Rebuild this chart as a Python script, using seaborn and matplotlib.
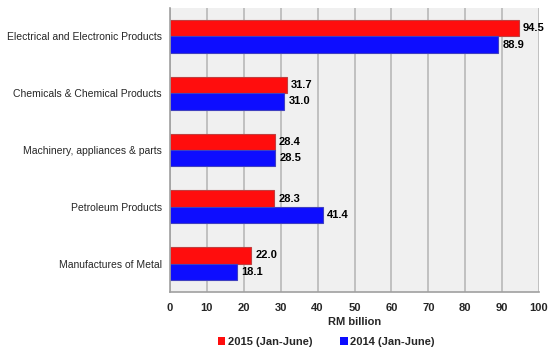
import matplotlib
matplotlib.use("Agg")
import matplotlib.pyplot as plt
import seaborn as sns
import pandas as pd
from matplotlib.patches import Patch

categories = ["Electrical and Electronic Products", "Chemicals & Chemical Products",
              "Machinery, appliances & parts", "Petroleum Products", "Manufactures of Metal"]
values_2015 = [94.5, 31.7, 28.4, 28.3, 22.0]
values_2014 = [88.9, 31.0, 28.5, 41.4, 18.1]
series = ["2015 (Jan-June)", "2014 (Jan-June)"]
colors = ["#ff0d0d", "#0d0dff"]
edge_colors = ["#c04040", "#4040c0"]

df = pd.DataFrame({
    "category": categories * 2,
    "value": values_2015 + values_2014,
    "series": [series[0]] * len(categories) + [series[1]] * len(categories),
})

sns.set_theme(style="white")
plt.rcParams["font.family"] = ["Liberation Sans", "DejaVu Sans"]

fig = plt.figure(figsize=(5.5, 3.5), dpi=100)
ax = fig.add_axes([170/550, 1-292/350, (539-170)/550, (292-8)/350])
ax.set_facecolor("#f0f0f0")

sns.barplot(data=df, y="category", x="value", hue="series", order=categories,
            hue_order=series, palette=colors, orient="h", width=0.58,
            linewidth=0.8, saturation=1, ax=ax, legend=False)

for cont, ec in zip(ax.containers, edge_colors):
    for p in cont:
        p.set_edgecolor(ec)
    ax.bar_label(cont, fmt="%.1f", padding=3, fontsize=8, fontweight="bold", color="black")

ax.set_xlim(0, 100)
ax.set_xticks(range(0, 101, 10))
ax.set_ylim(len(categories) - 0.5, -0.5)
ax.xaxis.grid(True, color="#b8b8b8", linewidth=1.2)
ax.set_axisbelow(True)
for s in ["top", "right"]:
    ax.spines[s].set_visible(False)
for s in ["left", "bottom"]:
    ax.spines[s].set_color("#a0a0a0")
    ax.spines[s].set_linewidth(1.2)
ax.tick_params(axis="x", length=4, color="#a0a0a0", labelsize=8, pad=4)
ax.tick_params(axis="y", length=0, labelsize=7.5, pad=6)
for lbl in ax.get_xticklabels():
    lbl.set_fontweight("bold")
ax.set_ylabel("")
ax.set_xlabel("RM billion", fontsize=8, fontweight="bold", labelpad=3)

handles = [Patch(facecolor=c, edgecolor="none") for c in colors]
fig.legend(handles, series, loc="center", bbox_to_anchor=(326/550, 1-342/350), ncol=2,
           frameon=False, handlelength=0.7, handleheight=0.7,
           handletextpad=0.2, columnspacing=2.5, prop={"weight": "bold", "size": 8})

fig.savefig("out.png", dpi=100)
